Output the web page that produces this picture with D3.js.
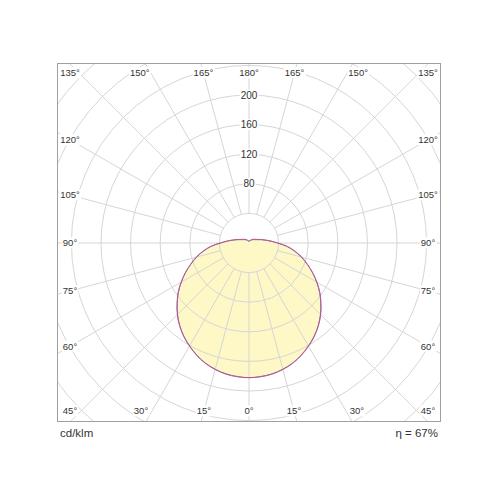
<!DOCTYPE html>
<html>
<head>
<meta charset="utf-8">
<script src="https://cdn.jsdelivr.net/npm/d3@7"></script>
<style>
  body { margin: 0; background: #fff; }
  text { font-family: "Liberation Sans", Arial, sans-serif; fill: #333; }
</style>
</head>
<body>
<div id="chart"></div>
<script>
// gamma angles (deg from nadir) and intensities in cd/klm
var gammas = [0, 5, 10, 15, 20, 25, 30, 35, 40, 45, 50, 55, 60, 65, 70, 75, 80, 85, 90,
              95, 100, 105, 110, 120, 130, 140, 150, 160, 170, 180];
var planeC0 = [182, 181.5, 180, 177, 173, 167.5, 161, 154, 146, 137, 127, 117, 106, 95, 84, 74, 63, 52, 39,
               30, 23, 18, 14, 10, 8, 6, 4.5, 3.5, 3, 3];
var planeC90 = [182, 181, 179.5, 176.5, 172.5, 167, 160.5, 153.5, 145.5, 136.5, 126.5, 116.5, 105.5, 94.5, 83.5, 73, 62, 51, 38,
                29, 22, 17, 13, 9, 7, 5.5, 4, 3, 2.5, 2.5];
var ringValues = [40, 80, 120, 160, 200, 240, 280, 320, 360];
var ringLabels = [80, 120, 160, 200];
var spokeAngles = d3.range(-165, 181, 15);
var unitLabel = "cd/klm";
var effLabel = "η = 67%";

var PolarChart = function (props) {
  this.element = props.element;
  this.width = props.width;
  this.height = props.height;
  this.draw();
}

PolarChart.prototype.draw = function () {
  var cx = 249, cy = 243;
  var box = {x0: 57, y0: 63, x1: 441, y1: 422};

  this.svg = d3.select(this.element)
    .append("svg")
    .attr("width", this.width)
    .attr("height", this.height);

  var r = d3.scaleLinear().domain([0, 200]).range([0, 148]);

  this.svg.append("clipPath").attr("id", "frameClip")
    .append("rect")
    .attr("x", box.x0).attr("y", box.y0)
    .attr("width", box.x1 - box.x0).attr("height", box.y1 - box.y0);

  var g = this.svg.append("g")
    .attr("clip-path", "url(#frameClip)")
    .append("g")
    .attr("transform", "translate(" + cx + "," + cy + ")");

  // radial line for one plane, mirrored on both sides
  var line = d3.lineRadial()
    .angle(function (d) { return d[0]; })
    .radius(function (d) { return r(d[1]); })
    .curve(d3.curveCatmullRomClosed);

  function planePoints(vals) {
    var pts = [];
    gammas.forEach(function (gm, i) { pts.push([Math.PI - gm * Math.PI / 180, vals[i]]); });
    for (var i = gammas.length - 2; i > 0; i--) {
      pts.push([Math.PI + gammas[i] * Math.PI / 180, vals[i]]);
    }
    return pts;
  }

  // yellow fill
  g.append("path")
    .attr("d", line(planePoints(planeC0)))
    .attr("fill", "#fdf8c6")
    .attr("stroke", "none");

  // rings
  g.selectAll(".ring")
    .data(ringValues)
    .enter().append("circle")
    .attr("r", function (d) { return r(d); })
    .attr("fill", "none")
    .attr("stroke", "#d6d6d6")
    .attr("stroke-width", 1);

  // spokes, starting at the inner ring
  g.selectAll(".spoke")
    .data(spokeAngles)
    .enter().append("line")
    .attr("x1", function (d) { return r(40) * Math.sin(d * Math.PI / 180); })
    .attr("y1", function (d) { return r(40) * Math.cos(d * Math.PI / 180); })
    .attr("x2", function (d) { return 400 * Math.sin(d * Math.PI / 180); })
    .attr("y2", function (d) { return 400 * Math.cos(d * Math.PI / 180); })
    .attr("stroke", "#d6d6d6")
    .attr("stroke-width", 1);

  // curve outlines
  g.append("path")
    .attr("d", line(planePoints(planeC90)))
    .attr("fill", "none")
    .attr("stroke", "#6a6ad0")
    .attr("stroke-width", 0.9);
  g.append("path")
    .attr("d", line(planePoints(planeC0)))
    .attr("fill", "none")
    .attr("stroke", "#c0507a")
    .attr("stroke-width", 0.9);

  // frame
  this.svg.append("rect")
    .attr("x", box.x0 + 0.5).attr("y", box.y0 + 0.5)
    .attr("width", box.x1 - box.x0 - 1).attr("height", box.y1 - box.y0 - 1)
    .attr("fill", "none")
    .attr("stroke", "#a0a0a0")
    .attr("stroke-width", 1);

  // value labels on the vertical axis
  var that = this;
  function addLabel(x, y, txt, size) {
    var t = that.svg.append("text")
      .attr("x", x).attr("y", y)
      .attr("dy", "0.35em")
      .attr("text-anchor", "middle")
      .style("font-size", size + "px")
      .text(txt);
    var bb = t.node().getBBox();
    that.svg.insert("rect", function () { return t.node(); })
      .attr("x", bb.x - 1).attr("y", bb.y)
      .attr("width", bb.width + 2).attr("height", bb.height)
      .attr("fill", "#fff");
  }

  ringLabels.forEach(function (v) {
    addLabel(cx, cy - r(v), v, 10);
  });

  // angle labels where the spokes meet the inner edge of the frame
  var lx0 = 70, lx1 = 428, ly0 = 73, ly1 = 411;
  spokeAngles.forEach(function (a) {
    var s = Math.sin(a * Math.PI / 180), c = Math.cos(a * Math.PI / 180);
    var tx = s > 0 ? (lx1 - cx) / s : s < 0 ? (lx0 - cx) / s : Infinity;
    var ty = c > 0 ? (ly1 - cy) / c : c < 0 ? (ly0 - cy) / c : Infinity;
    var x, y;
    if (ty <= tx) {
      x = cx + ty * s;
      y = c > 0 ? ly1 : ly0;
      if (Math.abs(x - cx) > 60) x += (x > cx ? 11 : -11);
      x = Math.max(lx0, Math.min(lx1, x));
    } else {
      x = s > 0 ? lx1 : lx0;
      y = cy + tx * c;
    }
    addLabel(x, y, Math.abs(a) + "°", 9.5);
  });

  this.svg.append("text")
    .attr("x", 60).attr("y", 437)
    .style("font-size", "11.5px")
    .text(unitLabel);
  this.svg.append("text")
    .attr("x", 438).attr("y", 437)
    .attr("text-anchor", "end")
    .style("font-size", "11.5px")
    .text(effLabel);
}

new PolarChart({element: "#chart", width: 500, height: 500});
</script>
</body>
</html>
